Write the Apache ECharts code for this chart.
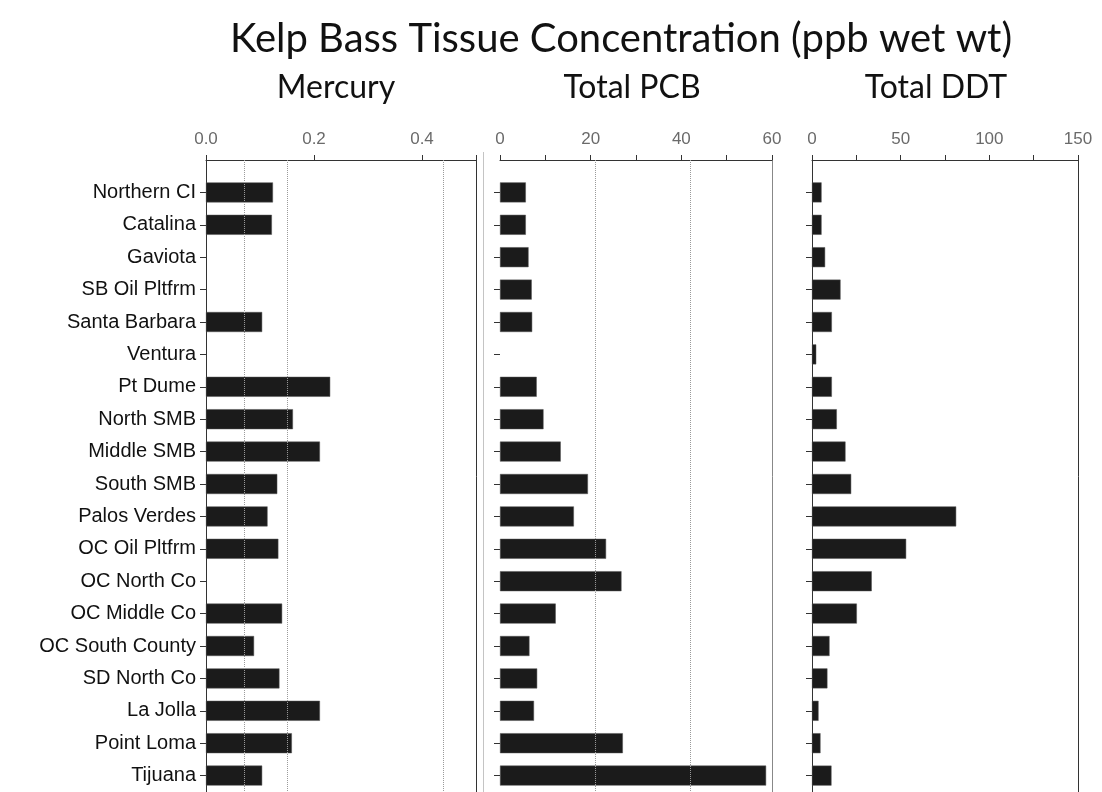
<!DOCTYPE html>
<html>
<head>
<meta charset="utf-8">
<script src="https://cdn.jsdelivr.net/npm/echarts@6/dist/echarts.min.js"></script>
<style>
html,body{margin:0;padding:0;background:#fff;}
#c{width:1102px;height:792px;}
</style>
</head>
<body>
<div id="c"></div>
<script>
// ---- Data ----
const sites = ['Northern CI','Catalina','Gaviota','SB Oil Pltfrm','Santa Barbara','Ventura','Pt Dume','North SMB','Middle SMB','South SMB','Palos Verdes','OC Oil Pltfrm','OC North Co','OC Middle Co','OC South County','SD North Co','La Jolla','Point Loma','Tijuana'];
const mercury = [0.124,0.122,null,null,0.104,null,0.230,0.161,0.211,0.132,0.114,0.134,null,0.141,0.089,0.136,0.211,0.159,0.104];
const pcb = [5.7,5.7,6.3,7.0,7.1,null,8.1,9.6,13.4,19.4,16.3,23.4,26.8,12.3,6.5,8.2,7.5,27.1,58.7];
const ddt = [5.4,5.4,7.4,16.1,11.2,2.4,11.2,14.0,18.9,22.1,81.3,53.1,33.7,25.3,9.9,8.7,3.7,4.8,11.0];
const mercuryAdvisory = [0.07,0.15,0.44];
const pcbAdvisory = [21,42];
const panelTitles = ['Mercury','Total PCB','Total DDT'];
const mainTitle = 'Kelp Bass Tissue Concentration (ppb wet wt)';
const xMax = [0.5, 60, 150];
const xInterval = [0.2, 10, 25];
const xLabelStep = [0.2, 20, 50];

// padded categories (blank slot above and below so ticks sit on the bars)
const cats = [''].concat(sites, ['']);
const pad = arr => [null].concat(arr, [null]);

const grids = [
  {left:206, width:270, top:160, height:648},
  {left:500, width:272, top:160, height:648},
  {left:812, width:266, top:160, height:648}
];

const xAxes = grids.map((g,i)=>({
  type:'value', gridIndex:i, position:'top', min:0, max:xMax[i], interval:xInterval[i],
  axisLine:{show:true, lineStyle:{color:'#333', width:1}},
  axisTick:{show:true, length:5, inside:false, lineStyle:{color:'#333'}},
  splitLine:{show:false},
  axisLabel:{
    show:true, margin:12, color:'#6a6a6a', fontSize:17, fontFamily:'Liberation Sans',
    showMaxLabel:true,
    formatter: v => {
      const k = Math.round(v / xLabelStep[i] * 1000) / 1000;
      if (Math.abs(k - Math.round(k)) > 1e-6) return '';
      return i === 0 ? v.toFixed(1) : String(v);
    }
  }
}));

const yAxes = [];
grids.forEach((g,i)=>{
  yAxes.push({
    type:'category', gridIndex:i, data:cats, inverse:true, boundaryGap:false,
    axisLine:{show: i !== 1, lineStyle:{color:'#333', width:1}},
    axisTick:{show:true, length:6, lineStyle:{color:'#333'}, interval:(idx,val)=>val!==''},
    axisLabel:{show: i===0, margin:10, color:'#111', fontSize:20, fontFamily:'Liberation Sans', interval:0},
    splitLine:{show:false}
  });
  yAxes.push({
    type:'category', gridIndex:i, data:cats, inverse:true, boundaryGap:false, position:'right',
    axisLine:{show:true, lineStyle:{color: i===1 ? '#888' : '#333', width:1}},
    axisTick:{show:false}, axisLabel:{show:false}, splitLine:{show:false}
  });
});

const dotted = {type:'dotted', color:'#9a9a9a', width:1};
const series = [
  {type:'bar', xAxisIndex:0, yAxisIndex:0, data:pad(mercury), barWidth:20,
   itemStyle:{color:'#1b1b1b', borderColor:'#555', borderWidth:0.5},
   markLine:{silent:true, symbol:'none', label:{show:false}, lineStyle:dotted,
     data: mercuryAdvisory.map(v=>({xAxis:v}))}},
  {type:'bar', xAxisIndex:1, yAxisIndex:2, data:pad(pcb), barWidth:20,
   itemStyle:{color:'#1b1b1b', borderColor:'#555', borderWidth:0.5},
   markLine:{silent:true, symbol:'none', label:{show:false}, lineStyle:dotted,
     data: pcbAdvisory.map(v=>({xAxis:v}))}},
  {type:'bar', xAxisIndex:2, yAxisIndex:4, data:pad(ddt), barWidth:20,
   itemStyle:{color:'#1b1b1b', borderColor:'#555', borderWidth:0.5}}
];

const titleFont = 'Lato';
const titleCenters = [331, 627, 931];
const option = {
  backgroundColor:'#fff',
  animation:false,
  title: [
    {text:mainTitle, left:616, top:14, textAlign:'center',
     textStyle:{fontFamily:titleFont, fontSize:40, fontWeight:'normal', color:'#111'}},
  ].concat(panelTitles.map((t,i)=>({
     text:t, left:titleCenters[i], top:67, textAlign:'center',
     textStyle:{fontFamily:titleFont, fontSize:32, fontWeight:'normal', color:'#111'}}))),
  grid: grids.map(g=>Object.assign({containLabel:false, outerBoundsMode:'none'}, g)),
  xAxis: xAxes,
  yAxis: yAxes,
  series: series,
  graphic: [
    {type:'line', shape:{x1:483.5, y1:152, x2:483.5, y2:792}, style:{stroke:'#c4c4c4', lineWidth:1}, silent:true}
  ]
};

const chart = echarts.init(document.getElementById('c'), null, {renderer:'canvas'});
chart.setOption(option);
</script>
</body>
</html>
